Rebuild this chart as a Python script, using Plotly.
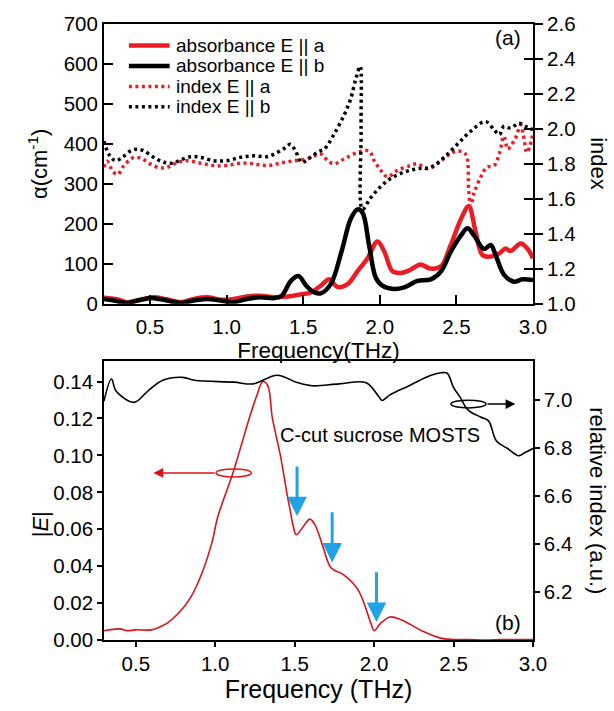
import plotly.graph_objects as go

# ---------------- Panel (a) data ----------------
abs_a_f = [0.2, 0.285, 0.35, 0.44, 0.525, 0.61, 0.70, 0.786, 0.873, 0.96, 1.047, 1.133, 1.22, 1.31, 1.40, 1.48, 1.55,
           1.615, 1.67, 1.724, 1.79, 1.854, 1.92, 1.985, 2.03, 2.083, 2.137, 2.20, 2.265, 2.33, 2.40, 2.463, 2.53,
           2.58, 2.626, 2.67, 2.724, 2.78, 2.82, 2.854, 2.92, 2.963, 3.0]
abs_a_v = [15, 11, 4, 10, 16, 11, 4, 12, 16, 10, 12, 18, 20, 16, 18, 23, 28,
           45, 61, 42, 49, 81, 114, 156, 130, 81, 77, 85, 98, 88, 94, 147, 212,
           244, 179, 122, 118, 126, 138, 132, 151, 138, 114]

abs_b_f = [0.2, 0.265, 0.35, 0.44, 0.525, 0.61, 0.70, 0.786, 0.873, 0.96, 1.047, 1.133, 1.22, 1.31, 1.36, 1.42,
           1.47, 1.52, 1.57, 1.615, 1.68, 1.75, 1.81, 1.854, 1.887, 1.93, 1.974, 2.017, 2.09, 2.16, 2.246, 2.333,
           2.40, 2.463, 2.53, 2.572, 2.615, 2.68, 2.724, 2.756, 2.81, 2.876, 2.93, 3.0]
abs_b_v = [12, 8, 2, 10, 14, 8, 2, 8, 12, 8, 4, 12, 16, 14, 20, 57,
           69, 45, 29, 26, 49, 130, 212, 236, 228, 147, 65, 45, 37, 41, 57, 61,
           81, 130, 171, 189, 171, 137, 147, 122, 73, 55, 61, 59]

idx_a_f = [0.2, 0.22, 0.26, 0.29, 0.33, 0.395, 0.45, 0.50, 0.56, 0.61, 0.67, 0.74, 0.83, 0.916, 1.0, 1.09, 1.177,
           1.265, 1.35, 1.44, 1.525, 1.615, 1.66, 1.70, 1.767, 1.854, 1.93, 1.963, 2.006, 2.05, 2.115, 2.20, 2.246,
           2.31, 2.376, 2.44, 2.506, 2.56, 2.58, 2.593, 2.615, 2.66, 2.70, 2.746, 2.78, 2.81, 2.835, 2.854, 2.887,
           2.92, 2.937, 2.96, 2.98, 3.0]
idx_a_v = [1.78, 1.815, 1.754, 1.74, 1.79, 1.837, 1.828, 1.80, 1.778, 1.78, 1.804, 1.818, 1.804, 1.79, 1.79, 1.804, 1.80,
           1.79, 1.804, 1.818, 1.828, 1.856, 1.819, 1.80, 1.828, 1.865, 1.874, 1.819, 1.763, 1.726, 1.763, 1.79, 1.80,
           1.772, 1.80, 1.846, 1.874, 1.856, 1.651, 1.558, 1.633, 1.726, 1.781, 1.79, 1.856, 1.958, 1.884, 1.902, 1.949,
           2.023, 1.967, 1.865, 1.902, 1.977]

idx_b_f = [0.2, 0.231, 0.275, 0.319, 0.373, 0.417, 0.46, 0.525, 0.59, 0.645, 0.70, 0.764, 0.83, 0.916, 1.0, 1.09,
           1.177, 1.265, 1.33, 1.384, 1.417, 1.45, 1.49, 1.547, 1.60, 1.637, 1.70, 1.767, 1.81, 1.843, 1.872, 1.878,
           1.887, 1.94, 2.006, 2.07, 2.16, 2.246, 2.333, 2.42, 2.506, 2.593, 2.69, 2.746, 2.78, 2.81, 2.854, 2.909,
           2.952, 3.0]
idx_b_v = [1.93, 1.856, 1.818, 1.837, 1.874, 1.884, 1.874, 1.837, 1.809, 1.804, 1.822, 1.841, 1.837, 1.818, 1.818, 1.837,
           1.846, 1.841, 1.865, 1.893, 1.912, 1.874, 1.809, 1.837, 1.871, 1.884, 1.967, 2.079, 2.172, 2.284, 2.358, 2.0,
           1.54, 1.605, 1.67, 1.716, 1.753, 1.772, 1.781, 1.837, 1.912, 1.986, 2.042, 1.995, 1.967, 2.014, 2.005, 2.033,
           2.014, 1.995]

legend_names = ["absorbance E || a", "absorbance E || b", "index E || a", "index E || b"]

# ---------------- Panel (b) data ----------------
e_f = [0.3, 0.4, 0.45, 0.5, 0.6, 0.65, 0.7, 0.77, 0.845, 0.92, 0.98, 1.017, 1.11, 1.145, 1.214, 1.26, 1.30, 1.33,
       1.36, 1.41, 1.45, 1.47, 1.49, 1.51, 1.55, 1.596, 1.63, 1.68, 1.73, 1.805, 1.9, 1.98, 2.0, 2.04, 2.1, 2.17,
       2.3, 2.42, 2.5, 2.6, 2.7, 2.8, 2.9, 3.0]
e_v = [0.005, 0.006, 0.005, 0.0055, 0.0055, 0.007, 0.0093, 0.0146, 0.023, 0.037, 0.053, 0.067, 0.09, 0.10, 0.12, 0.132,
       0.140, 0.138, 0.12, 0.10, 0.08, 0.071, 0.062, 0.057, 0.061, 0.0655, 0.062, 0.050, 0.039, 0.0355, 0.027, 0.009,
       0.005, 0.009, 0.0125, 0.011, 0.005, 0.001, 0.0003, 0.0002, 0.0, 0.0002, 0.0002, 0.0003]

ri_f = [0.3, 0.347, 0.377, 0.49, 0.574, 0.67, 0.796, 0.87, 1.116, 1.24, 1.39, 1.51, 1.61, 1.78, 1.95, 2.03, 2.05,
        2.1, 2.22, 2.35, 2.42, 2.46, 2.5, 2.54, 2.59, 2.67, 2.72, 2.77, 2.84, 2.91, 2.95, 3.0]
ri_v = [6.994, 7.086, 7.035, 6.989, 7.035, 7.081, 7.093, 7.081, 7.073, 7.066, 7.102, 7.073, 7.058, 7.066, 7.071, 7.012,
        6.997, 7.020, 7.058, 7.100, 7.112, 7.110, 7.050, 7.012, 6.958, 6.928, 6.912, 6.828, 6.797, 6.767, 6.780, 6.797]

# arrows (blue) : x, tail y, tip y  (|E| units)
arrow_x = [1.515, 1.736, 2.015]
arrow_tail = [0.0948, 0.070, 0.0375]
arrow_tip = [0.067, 0.042, 0.0098]

RED = "#ec1c24"
RED_B = "#d9151b"
BLUE = "#1fa2e8"
FONT = "Liberation Sans, Arial, sans-serif"
DOT = "3px,3.5px"

styles = [dict(color=RED, width=4.5), dict(color="black", width=4.5),
          dict(color=RED, width=3.5, dash=DOT), dict(color="black", width=3.5, dash=DOT)]

fig = go.Figure()
fig.add_trace(go.Scatter(x=abs_a_f, y=abs_a_v, mode="lines", line=dict(shape="spline", **styles[0]),
                         name=legend_names[0], xaxis="x", yaxis="y"))
fig.add_trace(go.Scatter(x=abs_b_f, y=abs_b_v, mode="lines", line=dict(shape="spline", **styles[1]),
                         name=legend_names[1], xaxis="x", yaxis="y"))
fig.add_trace(go.Scatter(x=idx_a_f, y=idx_a_v, mode="lines", line=dict(shape="spline", **styles[2]),
                         name=legend_names[2], xaxis="x", yaxis="y2"))
fig.add_trace(go.Scatter(x=idx_b_f, y=idx_b_v, mode="lines", line=dict(shape="spline", **styles[3]),
                         name=legend_names[3], xaxis="x", yaxis="y2"))
fig.add_trace(go.Scatter(x=e_f, y=e_v, mode="lines", line=dict(color=RED_B, width=1.6, shape="spline"),
                         name="|E|", xaxis="x2", yaxis="y3"))
fig.add_trace(go.Scatter(x=ri_f, y=ri_v, mode="lines", line=dict(color="black", width=1.6, shape="spline"),
                         name="relative index", xaxis="x2", yaxis="y4"))
# empty trace so that the duplicate (inner-tick) right axis is drawn
fig.add_trace(go.Scatter(x=[None], y=[None], xaxis="x", yaxis="y5", hoverinfo="skip"))

tickfont = dict(family=FONT, size=20.5, color="black")
axcommon = dict(showline=True, linecolor="black", tickcolor="black", showgrid=False, zeroline=False,
                tickfont=tickfont)

top_dom = [0.5459, 1.0]
bot_dom = [0.0, 0.4525]

fig.update_layout(
    width=614, height=711,
    margin=dict(l=104, r=81, t=16, b=63),
    paper_bgcolor="white", plot_bgcolor="white",
    font=dict(family=FONT, color="black"),
    showlegend=False,
    xaxis=dict(domain=[0, 1], anchor="y", range=[0.2, 3.0], tick0=0.5, dtick=0.5, tickformat=".1f",
               ticks="inside", ticklen=9, tickwidth=1.5, linewidth=2, mirror=True, ticklabelstandoff=4,
               title=dict(text="Frequency(THz)", font=dict(size=22.5), standoff=0), **axcommon),
    yaxis=dict(domain=top_dom, anchor="x", range=[0, 700], dtick=100, ticks="inside", ticklen=9, tickwidth=1.5,
               linewidth=2, title=dict(text="α(cm<sup>-1</sup>)", font=dict(size=22), standoff=10), **axcommon),
    yaxis2=dict(overlaying="y", side="right", anchor="x", range=[1.0, 2.6], dtick=0.2, tick0=1.0, tickformat=".1f",
                ticks="outside", ticklen=8, tickwidth=1.5, linewidth=2, **axcommon),
    yaxis5=dict(overlaying="y", side="right", anchor="x", range=[1.0, 2.6], dtick=0.2, tick0=1.0,
                ticks="inside", ticklen=9, tickwidth=1.5, showticklabels=False, showline=False,
                tickcolor="black", showgrid=False, zeroline=False),
    xaxis2=dict(domain=[0, 1], anchor="y3", range=[0.3, 3.0], tick0=0.5, dtick=0.5, tickformat=".1f",
                ticks="outside", ticklen=5, tickwidth=1.5, linewidth=1.5, mirror=True,
                title=dict(text="Frequency (THz)", font=dict(size=25), standoff=6), **axcommon),
    yaxis3=dict(domain=bot_dom, anchor="x2", range=[0, 0.151], tick0=0, dtick=0.02, tickformat=".2f",
                ticks="outside", ticklen=5, tickwidth=1.5, linewidth=1.5, **axcommon),
    yaxis4=dict(overlaying="y3", side="right", anchor="x2", range=[6.0, 7.16],
                tickvals=[6.2, 6.4, 6.6, 6.8, 7.0], ticktext=["6.2", "6.4", "6.6", "6.8", "7.0"],
                ticks="outside", ticklen=5, tickwidth=1.5, linewidth=1.5, **axcommon),
)

annotations = [
    dict(text="index", x=1.153, y=(top_dom[0] + top_dom[1]) / 2, xref="paper", yref="paper", textangle=90,
         xanchor="center", yanchor="middle", showarrow=False, font=dict(size=22)),
    dict(text="relative index (a.u.)", x=1.150, y=(bot_dom[0] + bot_dom[1]) / 2, xref="paper", yref="paper",
         textangle=90, xanchor="center", yanchor="middle", showarrow=False, font=dict(size=22)),
    dict(text="|<i>E</i>|", x=-0.148, y=0.187, xref="paper", yref="paper",
         textangle=-90, xanchor="center", yanchor="middle", showarrow=False, font=dict(size=22)),
    dict(text="(a)", x=2.84, y=665, xref="x", yref="y", showarrow=False, font=dict(size=21)),
    dict(text="(b)", x=2.84, y=0.0095, xref="x2", yref="y3", showarrow=False, font=dict(size=21)),
    dict(text="C-cut sucrose MOSTS", x=2.04, y=0.1113, xref="x2", yref="y3", showarrow=False, font=dict(size=20)),
    # red arrow from ellipse pointing left
    dict(text="", x=0.611, y=0.0905, ax=1.005, ay=0.0905, xref="x2", yref="y3", axref="x2", ayref="y3",
         showarrow=True, arrowhead=2, arrowsize=1.3, arrowwidth=1.5, arrowcolor=RED_B),
    # black arrow from ellipse pointing right
    dict(text="", x=2.889, y=0.1278, ax=2.704, ay=0.1278, xref="x2", yref="y3", axref="x2", ayref="y3",
         showarrow=True, arrowhead=2, arrowsize=1.3, arrowwidth=1.5, arrowcolor="black"),
]
for xa, yt, yh in zip(arrow_x, arrow_tail, arrow_tip):
    annotations.append(dict(text="", x=xa, y=yh, ax=xa, ay=yt, xref="x2", yref="y3", axref="x2", ayref="y3",
                            showarrow=True, arrowhead=2, arrowsize=1.3, arrowwidth=3, arrowcolor=BLUE))

shapes = [
    dict(type="circle", xref="x2", yref="y3", x0=1.005, x1=1.227, y0=0.0883, y1=0.0927,
         line=dict(color=RED_B, width=1.5)),
    dict(type="circle", xref="x2", yref="y3", x0=2.483, x1=2.704, y0=0.1257, y1=0.1299,
         line=dict(color="black", width=1.5)),
]

# hand-placed legend (panel a)
leg_rows = [0.9652, 0.9320, 0.8987, 0.8655]
for name, st, yy in zip(legend_names, styles, leg_rows):
    shapes.append(dict(type="line", xref="paper", yref="paper", x0=0.058, x1=0.153, y0=yy, y1=yy,
                       line=st))
    annotations.append(dict(text=name, x=0.164, y=yy, xref="paper", yref="paper", xanchor="left",
                            yanchor="middle", showarrow=False, font=dict(size=19)))

fig.update_layout(annotations=annotations, shapes=shapes)

fig.write_html("out.html")
